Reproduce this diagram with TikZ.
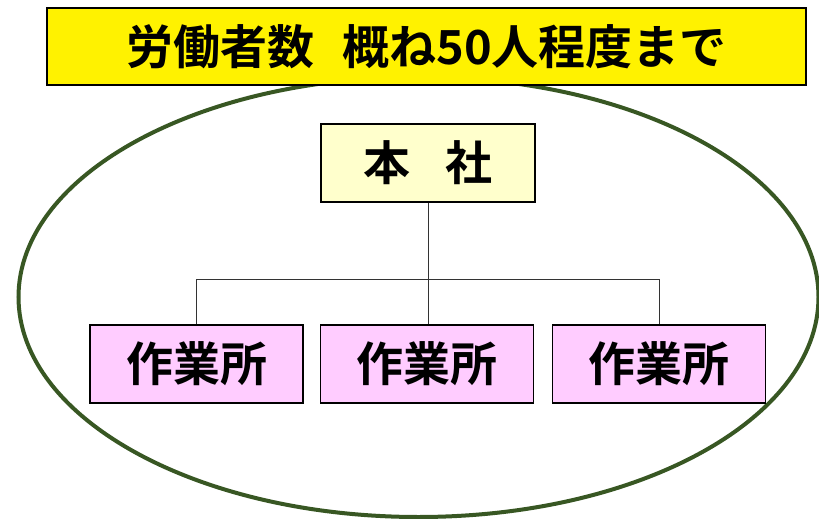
\documentclass[tikz,border=0pt]{standalone}
\usepackage{fontspec}
\newfontfamily\jp{Noto Sans CJK JP Bold}
\begin{document}
\begin{tikzpicture}[x=1pt,y=-1pt,
  box/.style={draw=black,line width=1.5pt,minimum width=213pt,minimum height=78pt,inner sep=0pt,font=\jp\fontsize{47}{47}\selectfont},
  conn/.style={draw=black!80,line width=1pt}]
\useasboundingbox (0,0) rectangle (819,519);
\draw[line width=4pt,draw={rgb,255:red,56;green,87;blue,35}] (418.5,297) ellipse [x radius=400, y radius=220];
\node[draw=black,line width=1.5pt,fill=yellow,minimum width=759pt,minimum height=77pt,inner sep=0pt,font=\jp\fontsize{47}{47}\selectfont] (title) at (426.5,46.5) {労働者数\hspace{0.6em}概ね50人程度まで};
\node[box,fill={rgb,255:red,255;green,255;blue,204},minimum width=214pt] (hq) at (428,163) {本\hspace{0.75em}社};
\node[box,fill={rgb,255:red,255;green,204;blue,255}] (s1) at (196.5,364) {作業所};
\node[box,fill={rgb,255:red,255;green,204;blue,255}] (s2) at (427,364) {作業所};
\node[box,fill={rgb,255:red,255;green,204;blue,255}] (s3) at (659,364) {作業所};
\draw[conn] (hq.south) -- (hq.south |- s2.north);
\draw[conn] (s1.north) -- ++(0,-45) -| (s3.north);
\end{tikzpicture}
\end{document}
